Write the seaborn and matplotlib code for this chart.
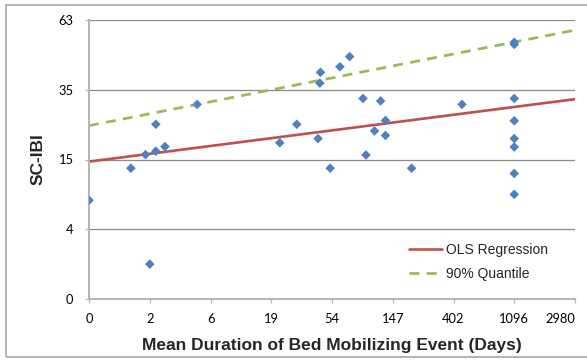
import matplotlib
matplotlib.use("Agg")
import matplotlib.pyplot as plt
import seaborn as sns
import pandas as pd
from matplotlib.lines import Line2D

# Transformed scales: x = ln(days + 1), y = sqrt-type index scale
x_tick_pos = [0, 1, 2, 3, 4, 5, 6, 7, 8]
x_tick_labels = ["0", "2", "6", "19", "54", "147", "402", "1096", "2980"]
y_tick_pos = [0, 2, 4, 6, 8]
y_tick_labels = ["0", "4", "15", "35", "63"]

# Sites: transformed mean event duration and transformed SC-IBI score
duration_t = [0.00, 0.69, 0.93, 1.10, 1.10, 1.25, 1.78, 1.00,
              3.14, 3.42, 3.77, 3.80, 3.81, 4.13, 4.29, 4.51,
              4.80, 4.88, 4.70, 4.88, 4.56, 3.97, 5.31,
              7.00, 7.00, 6.14, 7.00, 7.00, 7.00, 7.00, 7.00, 7.00]
scibi_t = [2.83, 3.75, 4.14, 4.24, 5.01, 4.37, 5.58, 1.00,
           4.48, 5.01, 4.60, 6.19, 6.50, 6.66, 6.95, 5.75,
           5.68, 5.12, 4.82, 4.69, 4.13, 3.75, 3.75,
           7.36, 7.30, 5.58, 5.75, 5.11, 4.60, 4.36, 3.60, 3.00]

# Fitted lines at the ends of the x range
fit_x = [0, 8]
ols_y = [3.94, 5.73]
q90_y = [4.97, 7.71]

pts = pd.DataFrame({"x": duration_t, "y": scibi_t})
fits = pd.DataFrame({"x": fit_x, "ols": ols_y, "q90": q90_y})

sns.set_theme(style="white")
plt.rcParams["font.family"] = ["Liberation Sans", "DejaVu Sans"]

fig = plt.figure(figsize=(5.87, 3.60), dpi=100)
ax = fig.add_axes([89 / 587, 1 - 299 / 360, (575 - 89) / 587, (299 - 20) / 360])

blue = "#4F81BD"
red = "#C0504D"
green = "#9BBB59"
grid_c = "#8C8C8C"
axis_c = "#B4B4B4"

for yv in y_tick_pos[1:]:
    ax.axhline(yv, color=grid_c, lw=0.9, zorder=0)

sns.lineplot(data=fits, x="x", y="ols", ax=ax, color=red, lw=1.9, zorder=2)
sns.lineplot(data=fits, x="x", y="q90", ax=ax, color=green, lw=2.0,
             dashes=False, zorder=2)
ax.lines[-1].set_dashes((3.6, 2.6))
sns.scatterplot(data=pts, x="x", y="y", ax=ax, marker="D", s=24,
                color=blue, edgecolor="none", linewidth=0, zorder=3)

ax.set_xlim(0, 8)
ax.set_ylim(0, 8)
ax.set_xticks(x_tick_pos)
ax.set_xticklabels(x_tick_labels)
ax.set_yticks(y_tick_pos)
ax.set_yticklabels(y_tick_labels)

for s in ["top", "right"]:
    ax.spines[s].set_visible(False)
for s in ["left", "bottom"]:
    ax.spines[s].set_color(axis_c)
    ax.spines[s].set_linewidth(1.4)

ax.tick_params(axis="both", which="major", direction="out", length=3.2,
               width=0.9, color=axis_c, labelsize=9.3, labelcolor="#000000",
               left=True, bottom=True)
ax.tick_params(axis="y", pad=8)
ax.tick_params(axis="x", pad=7)
for lab in ax.get_xticklabels() + ax.get_yticklabels():
    lab.set_family(["Lato", "DejaVu Sans"])
# keep the last x label inside the chart frame
ax.get_xticklabels()[-1].set_horizontalalignment("right")

ax.set_xlabel("Mean Duration of Bed Mobilizing Event (Days)", fontsize=12.5,
              fontweight="bold", labelpad=9)
ax.set_ylabel("SC-IBI", fontsize=12.5, fontweight="bold", labelpad=9)

handles = [Line2D([0], [0], color=red, lw=1.9),
           Line2D([0], [0], color=green, lw=2.0, dashes=(3.6, 2.6))]
ax.legend(handles, ["OLS Regression", "90% Quantile"], loc="lower right",
          bbox_to_anchor=(0.97, 0.02), frameon=False, fontsize=10,
          handlelength=2.4, handletextpad=0.25, labelspacing=0.75)

# Chart frame
fig.add_artist(plt.Rectangle((6 / 587, 1 - 357 / 360), 590 / 587, 352 / 360,
                             transform=fig.transFigure, fill=False,
                             edgecolor="#A6A6A6", lw=1.2))

fig.savefig("out.png", dpi=100)
